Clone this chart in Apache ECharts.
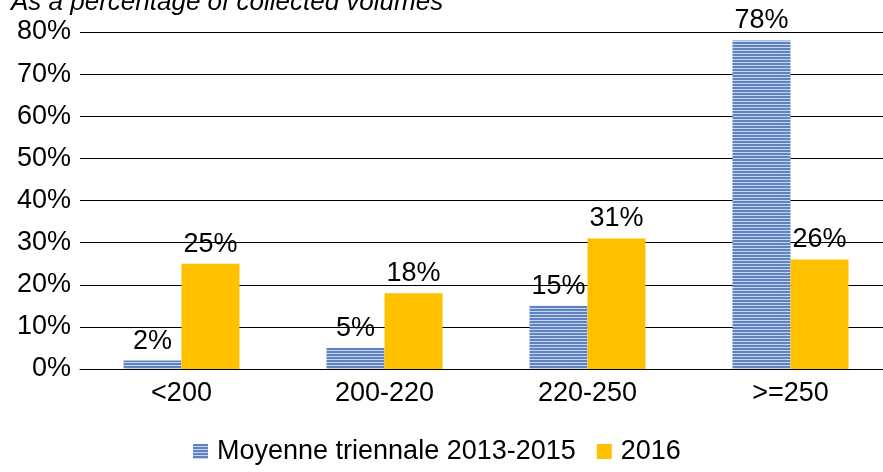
<!DOCTYPE html>
<html>
<head>
<meta charset="utf-8">
<script src="https://cdn.jsdelivr.net/npm/echarts@6/dist/echarts.min.js"></script>
<style>
  html, body { margin: 0; padding: 0; background: #fff; }
  #chart { width: 883px; height: 472px; }
</style>
</head>
<body>
<div id="chart"></div>
<script>
// Weight classes and shares of collected volumes (%)
const categories = ['<200', '200-220', '220-250', '>=250'];
const avg2013to2015 = [2, 5, 15, 78];
const year2016 = [25, 18, 31, 26];
const seriesNames = ['Moyenne triennale 2013-2015', '2016'];
const titleText = 'As a percentage of collected volumes';

// Horizontal-stripe fill for the three-year average bars
function stripePattern() {
  const c = document.createElement('canvas');
  c.width = 4; c.height = 3;
  const ctx = c.getContext('2d');
  ctx.fillStyle = '#5f82c2';
  ctx.fillRect(0, 0, 4, 2);
  ctx.fillStyle = '#c6d4ee';
  ctx.fillRect(0, 2, 4, 1);
  return { image: c, repeat: 'repeat' };
}

const FONT = 'Liberation Sans, Arial, sans-serif';
const chart = echarts.init(document.getElementById('chart'), null, { renderer: 'canvas' });
const stripes = stripePattern();

chart.setOption({
  animation: false,
  backgroundColor: '#fff',
  textStyle: { fontFamily: FONT },
  title: {
    text: titleText,
    left: 6, top: -15,
    textStyle: { fontFamily: FONT, fontSize: 26, fontStyle: 'italic', fontWeight: 'normal', color: '#000' }
  },
  legend: {
    data: seriesNames,
    bottom: 2,
    left: 188,
    itemWidth: 15, itemHeight: 15,
    itemGap: 21,
    icon: 'rect',
    textStyle: { fontFamily: FONT, fontSize: 27, color: '#000', padding: [0, 0, 0, 4] }
  },
  grid: { left: 80, width: 812, top: 32, bottom: 103, outerBoundsMode: 'none' },
  xAxis: {
    type: 'category',
    data: categories,
    axisLine: { lineStyle: { color: '#000', width: 1 } },
    axisTick: { show: false },
    axisLabel: { fontFamily: FONT, fontSize: 27, color: '#000', margin: 11 }
  },
  yAxis: {
    type: 'value',
    min: 0, max: 80, interval: 10,
    axisLine: { show: false },
    axisTick: { show: false },
    splitLine: { lineStyle: { color: '#000', width: 1 } },
    axisLabel: { fontFamily: FONT, fontSize: 27, color: '#000', margin: 9, formatter: '{value}%' }
  },
  series: [
    {
      name: seriesNames[0],
      type: 'bar',
      data: avg2013to2015,
      barWidth: 58,
      barGap: '0%',
      itemStyle: { color: stripes },
      label: { show: true, position: 'top', distance: 6, formatter: '{c}%', fontFamily: FONT, fontSize: 27, color: '#000' }
    },
    {
      name: seriesNames[1],
      type: 'bar',
      data: year2016,
      barWidth: 58,
      barGap: '0%',
      itemStyle: { color: '#FFC000' },
      label: { show: true, position: 'top', distance: 6, formatter: '{c}%', fontFamily: FONT, fontSize: 27, color: '#000' }
    }
  ]
});
</script>
</body>
</html>
